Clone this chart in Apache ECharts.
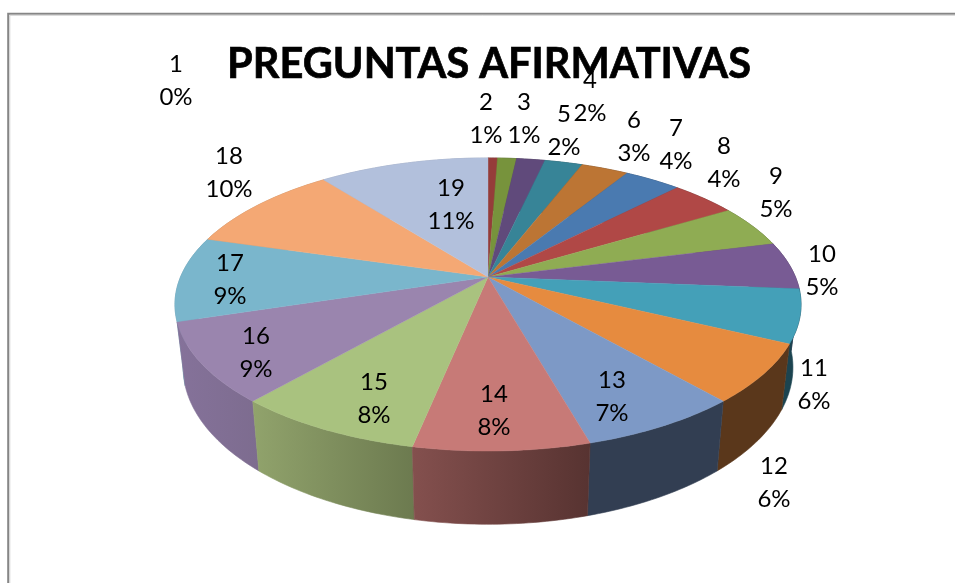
<!DOCTYPE html>
<html>
<head>
<meta charset="utf-8">
<style>html,body{margin:0;padding:0;background:#fff}#c{width:955px;height:583px}</style>
<script src="https://cdn.jsdelivr.net/npm/echarts@6/dist/echarts.min.js"></script>
</head>
<body>
<div id="c"></div>
<script>
// ---- data ----
const categories = ['1','2','3','4','5','6','7','8','9','10','11','12','13','14','15','16','17','18','19'];
const values = [0,1,2,3,4,5,6,7,8,9,10,11,12,13,14,15,16,17,18];
const percentLabels = ['0%','1%','1%','2%','2%','3%','4%','4%','5%','5%','6%','6%','7%','8%','8%','9%','9%','10%','11%'];

// ---- styling ----
const topColors = ['#4a7ebb','#953c3a','#77933c','#604a7b','#378497','#bc7534','#4a7ab0','#b04846','#8fac53','#785b94',
                   '#44a0b8','#e68b3f','#7d99c6','#c77a77','#a9c27f','#9a85ae','#7ab6cc','#f4a874','#b2c0dc'];
const wallLeftColors = ['#2c4a70','#5a2423','#475824','#3a2d4a','#21505b','#71461f','#2c4969','#6a2b2a','#566732','#483759',
                        '#1c4450','#5a371b','#323e52','#84504e','#91a36c','#85729a','#6f9fb0','#c08a60','#98a4bc'];
const wallRightColors = ['#2c4a70','#5a2423','#475824','#3a2d4a','#21505b','#71461f','#2c4969','#6a2b2a','#566732','#483759',
                         '#1c4450','#5a371b','#323e52','#573331','#6c7a4f','#7d6c8f','#6f9fb0','#c08a60','#98a4bc'];
// label centres on the page, as placed in the reference
const labelCentres = [[176,81],[486,119],[524,119],[590,97],[564,131],[634,137],[676,145],[724,163],[776,193],
                      [822,271],[814,384.5],[774,483],[612,396.5],[494,411],[374,398.5],[256,353],[230,280],[229,173],[451,205]];

// ---- pie geometry (perspective projection of a circle) ----
const cx = 488, apexY = 277, a = 307.5, b = 141.4, k = 0.1877;
const wallX = 0.974, wallY = 1.07, wallBase = 338;
const total = values.reduce((s, v) => s + v, 0);
const rows = [];
let run = 0;
values.forEach((v, i) => { rows.push([v, run, i]); run += v; });

function rim(theta) {
  const u = Math.sin(theta), v = -Math.cos(theta), w = 1 - k * v;
  return [a * u / w, b * v / w, v];
}
function arc(start, end) {
  const t0 = start / total * 2 * Math.PI, t1 = end / total * 2 * Math.PI;
  const n = Math.max(2, Math.ceil((t1 - t0) * 60));
  const pts = [];
  for (let i = 0; i <= n; i++) pts.push(rim(t0 + (t1 - t0) * i / n));
  return pts;
}

function renderWall(params, api) {
  const value = api.value(0), start = api.value(1), i = api.value(2);
  if (value <= 0) return null;
  const pts = arc(start, start + value);
  const upper = pts.map(p => [cx + p[0], apexY + p[1]]);
  const lower = pts.map(p => [cx + p[0] * wallX, wallBase + p[1] * wallY]).reverse();
  const mid = pts[Math.floor(pts.length / 2)];
  const paint = { type: 'linear', x: 0, y: 0, x2: 1, y2: 0, colorStops: [
    { offset: 0, color: wallLeftColors[i] }, { offset: 1, color: wallRightColors[i] } ] };
  return {
    type: 'polygon',
    z2: Math.round(mid[2] * 100) + 100,
    shape: { points: upper.concat(lower) },
    style: { fill: paint, stroke: paint, lineWidth: 0.6 }
  };
}
function renderTop(params, api) {
  const value = api.value(0), start = api.value(1), i = api.value(2);
  if (value <= 0) return null;
  const pts = arc(start, start + value).map(p => [cx + p[0], apexY + p[1]]);
  return {
    type: 'polygon',
    shape: { points: [[cx, apexY]].concat(pts) },
    style: { fill: topColors[i], stroke: topColors[i], lineWidth: 0.4 }
  };
}
function renderLabel(params, api) {
  const i = api.value(2);
  return {
    type: 'text',
    x: labelCentres[i][0],
    y: labelCentres[i][1],
    style: {
      text: categories[i] + '\n' + percentLabels[i],
      fill: '#000', font: '400 24px Lato', align: 'center', verticalAlign: 'middle', lineHeight: 33
    }
  };
}

const chart = echarts.init(document.getElementById('c'), null, { renderer: 'canvas' });
chart.setOption({
  animation: false,
  backgroundColor: '#ffffff',
  title: {
    text: 'PREGUNTAS AFIRMATIVAS',
    left: 484, top: 35, textAlign: 'center', z: 5,
    textStyle: { fontFamily: 'Lato', fontWeight: 700, fontSize: 41.5, color: '#000', lineHeight: 50,
                 textBorderColor: '#000', textBorderWidth: 0.7 }
  },
  graphic: [
    { type: 'rect', z: 0, shape: { x: 8.2, y: 13.7, width: 1100, height: 1100 }, style: { fill: 'none', stroke: '#868686', lineWidth: 2 } },
    { type: 'rect', z: 0, shape: { x: 9.8, y: 15.3, width: 1100, height: 1100 }, style: { fill: 'none', stroke: '#d2d2d2', lineWidth: 1 } }
  ],
  series: [
    { type: 'custom', coordinateSystem: 'none', z: 2, silent: true, data: rows, renderItem: renderWall },
    { type: 'custom', coordinateSystem: 'none', z: 3, silent: true, data: rows, renderItem: renderTop },
    { type: 'custom', coordinateSystem: 'none', z: 6, silent: true, data: rows, renderItem: renderLabel }
  ]
});
</script>
</body>
</html>
